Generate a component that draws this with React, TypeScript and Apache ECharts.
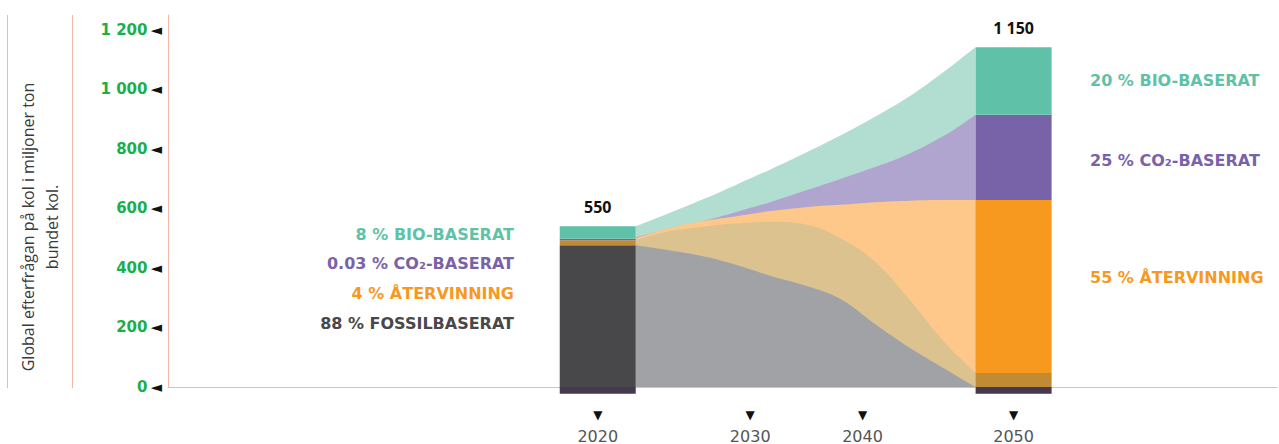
import React, { useEffect, useRef } from "react";
import * as echarts from "echarts";

// ---- Data ----
const barYears = [2020, 2050];
const barTotals = ["550", "1 150"];
// stacked segments of each bar (bottom to top); the first one hangs below zero
const barBase = [-23, -23];
const barFossil = [476, 0];
const barMix = [17, 47];
const barRecycle = [0, 581];
const barCo2 = [5, 287];
const barBio = [42, 227];

const areaYears = [2022.75, 2025, 2027.5, 2030, 2032.5, 2035, 2037.5, 2040, 2042.5, 2045, 2046.5, 2047.25];
const totalTop = [540, 581, 629, 680, 732, 787, 845, 908, 977, 1060, 1115, 1142];
const co2Top = [503, 530, 556, 588, 622, 660, 699, 739, 785, 845, 890, 915];
const recycleTop = [500, 532, 557, 574, 591, 604, 612, 621, 626, 628, 628, 628];
const mixTop = [494, 522, 538, 549, 555, 546, 500, 421, 293, 150, 80, 48];
const fossilTop = [476, 460, 440, 410, 373, 340, 296, 212, 132, 62, 20, 0];

const xTickPositions = [2020, 2031, 2039.1, 2050];
const xTickLabels = ["2020", "2030", "2040", "2050"];

const leftNotes = [
  { text: "8 % BIO-BASERAT", color: "#5fc2a7" },
  { text: "0.03 % CO₂-BASERAT", color: "#7a62a8" },
  { text: "4 % ÅTERVINNING", color: "#f7991f" },
  { text: "88 % FOSSILBASERAT", color: "#48484a" },
];
const rightNotes = [
  { text: "20 % BIO-BASERAT", color: "#5fc2a7" },
  { text: "25 % CO₂-BASERAT", color: "#7a62a8" },
  { text: "55 % ÅTERVINNING", color: "#f7991f" },
];
const leftNoteY = [234, 263, 293, 323];
const rightNoteY = [80, 160, 277];

const yTitle = "Global efterfrågan på kol i miljoner ton\nbundet kol.";

const C = {
  pink: "#f5b5a8",
  green: "#1aaf4b",
  bioArea: "#b2ddd1",
  co2Area: "#b0a5cf",
  recArea: "#fdc88a",
  mixArea: "#dbc28e",
  fosArea: "#a1a2a6",
};
const segColors = ["#46384f", "#48484a", "#c18b34", "#f7991f", "#7862a8", "#5fc2a8"];

const FONT = "DejaVu Sans";

function fmtNum(v: number) {
  const s = String(Math.round(v));
  return s.replace(/\B(?=(\d{3})+(?!\d))/g, " ");
}

export default function App() {
  const ref = useRef<HTMLDivElement>(null);
  useEffect(() => {
    document.body.style.margin = "0";
    const chart = echarts.init(ref.current!, undefined, { renderer: "svg" });

    const pair = (xs: number[], ys: number[]) => xs.map((x, i) => [x, ys[i]]);

    const areaSeries = (name: string, ys: number[], color: string) => ({
      name,
      type: "line",
      data: pair(areaYears, ys),
      smooth: 0.4,
      symbol: "none",
      showSymbol: false,
      lineStyle: { width: 0 },
      areaStyle: { color, opacity: 1 },
      z: 1,
      silent: true,
    });

    // build stacked segment rows [year, from, to, segmentIndex]
    const segs = [barBase, barFossil, barMix, barRecycle, barCo2, barBio];
    const segRows: number[][] = [];
    const topValues: number[] = [];
    barYears.forEach((yr, bi) => {
      segRows.push([yr, 0, segs[0][bi], 0]);
      let acc = 0;
      for (let s = 1; s < segs.length; s++) {
        const v = segs[s][bi];
        if (v > 0) segRows.push([yr, acc, acc + v, s]);
        acc += v;
      }
      topValues.push(acc);
    });

    const graphics: any[] = [
      { type: "line", shape: { x1: 7.5, y1: 15, x2: 7.5, y2: 388 }, style: { stroke: C.pink, lineWidth: 1 } },
      { type: "line", shape: { x1: 72.5, y1: 15, x2: 72.5, y2: 388 }, style: { stroke: C.pink, lineWidth: 1 } },
      {
        type: "text",
        x: 40,
        y: 227,
        rotation: Math.PI / 2,
        style: {
          text: yTitle,
          fill: "#3a3a3a",
          font: `16px "Open Sans"`,
          lineHeight: 24,
          align: "center",
          verticalAlign: "middle",
        },
      },
    ];
    leftNotes.forEach((n, i) =>
      graphics.push({
        type: "text",
        x: 514,
        y: leftNoteY[i],
        style: {
          text: n.text,
          fill: n.color,
          font: `bold 16px "${FONT}"`,
          align: "right",
          verticalAlign: "middle",
        },
      })
    );
    rightNotes.forEach((n, i) =>
      graphics.push({
        type: "text",
        x: 1090,
        y: rightNoteY[i],
        style: {
          text: n.text,
          fill: n.color,
          font: `bold 16px "${FONT}"`,
          align: "left",
          verticalAlign: "middle",
        },
      })
    );

    chart.setOption({
      animation: false,
      grid: { left: 168, right: 2, top: 15, bottom: 56, containLabel: false },
      xAxis: {
        type: "value",
        min: 1989,
        max: 2069,
        axisLine: { show: true, onZero: true, lineStyle: { color: C.pink, width: 1 } },
        axisTick: { show: false },
        splitLine: { show: false },
        axisLabel: {
          customValues: xTickPositions,
          margin: 21,
          formatter: (v: number) => {
            const i = xTickPositions.indexOf(v);
            return `{t|▼}\n{y|${i >= 0 ? xTickLabels[i] : ""}}`;
          },
          rich: {
            t: { fontSize: 12, lineHeight: 14, color: "#111", fontFamily: FONT },
            y: { fontSize: 16, lineHeight: 28, color: "#555", fontFamily: FONT },
          },
        },
      },
      yAxis: {
        type: "value",
        min: 0,
        max: 1250,
        interval: 200,
        axisLine: { show: true, lineStyle: { color: C.pink, width: 1 } },
        axisTick: { show: false },
        splitLine: { show: false },
        axisLabel: {
          showMaxLabel: false,
          margin: 6,
          formatter: (v: number) => `{n|${fmtNum(v)}}{t|◄}`,
          rich: {
            n: { fontSize: 15, fontWeight: "bold", color: C.green, fontFamily: FONT },
            t: { fontSize: 15, color: "#111", fontFamily: FONT, padding: [0, 0, 0, 3] },
          },
        },
      },
      graphic: graphics,
      series: [
        areaSeries("bio", totalTop, C.bioArea),
        areaSeries("co2", co2Top, C.co2Area),
        areaSeries("recycle", recycleTop, C.recArea),
        areaSeries("mix", mixTop, C.mixArea),
        areaSeries("fossil", fossilTop, C.fosArea),
        {
          type: "custom",
          name: "bars",
          data: segRows,
          encode: { x: 0, y: [1, 2] },
          clip: false,
          z: 3,
          silent: true,
          renderItem: (params: any, api: any) => {
            const x = api.value(0);
            const p0 = api.coord([x, api.value(1)]);
            const p1 = api.coord([x, api.value(2)]);
            const half = 38;
            const top = Math.min(p0[1], p1[1]);
            return {
              type: "rect",
              shape: { x: p0[0] - half, y: top, width: half * 2, height: Math.abs(p0[1] - p1[1]) },
              style: { fill: segColors[api.value(3)] },
            };
          },
        },
        {
          type: "custom",
          name: "totals",
          data: barYears.map((yr, i) => [yr, topValues[i], i]),
          encode: { x: 0, y: 1 },
          clip: false,
          z: 4,
          silent: true,
          renderItem: (params: any, api: any) => {
            const p = api.coord([api.value(0), api.value(1)]);
            return {
              type: "text",
              x: p[0],
              y: p[1] - 19,
              style: {
                text: barTotals[api.value(2)],
                fill: "#111",
                font: `bold 16px "Open Sans"`,
                align: "center",
                verticalAlign: "middle",
              },
            };
          },
        },
      ],
    });
    return () => chart.dispose();
  }, []);
  return <div ref={ref} style={{ width: 1279, height: 444 }} />;
}
